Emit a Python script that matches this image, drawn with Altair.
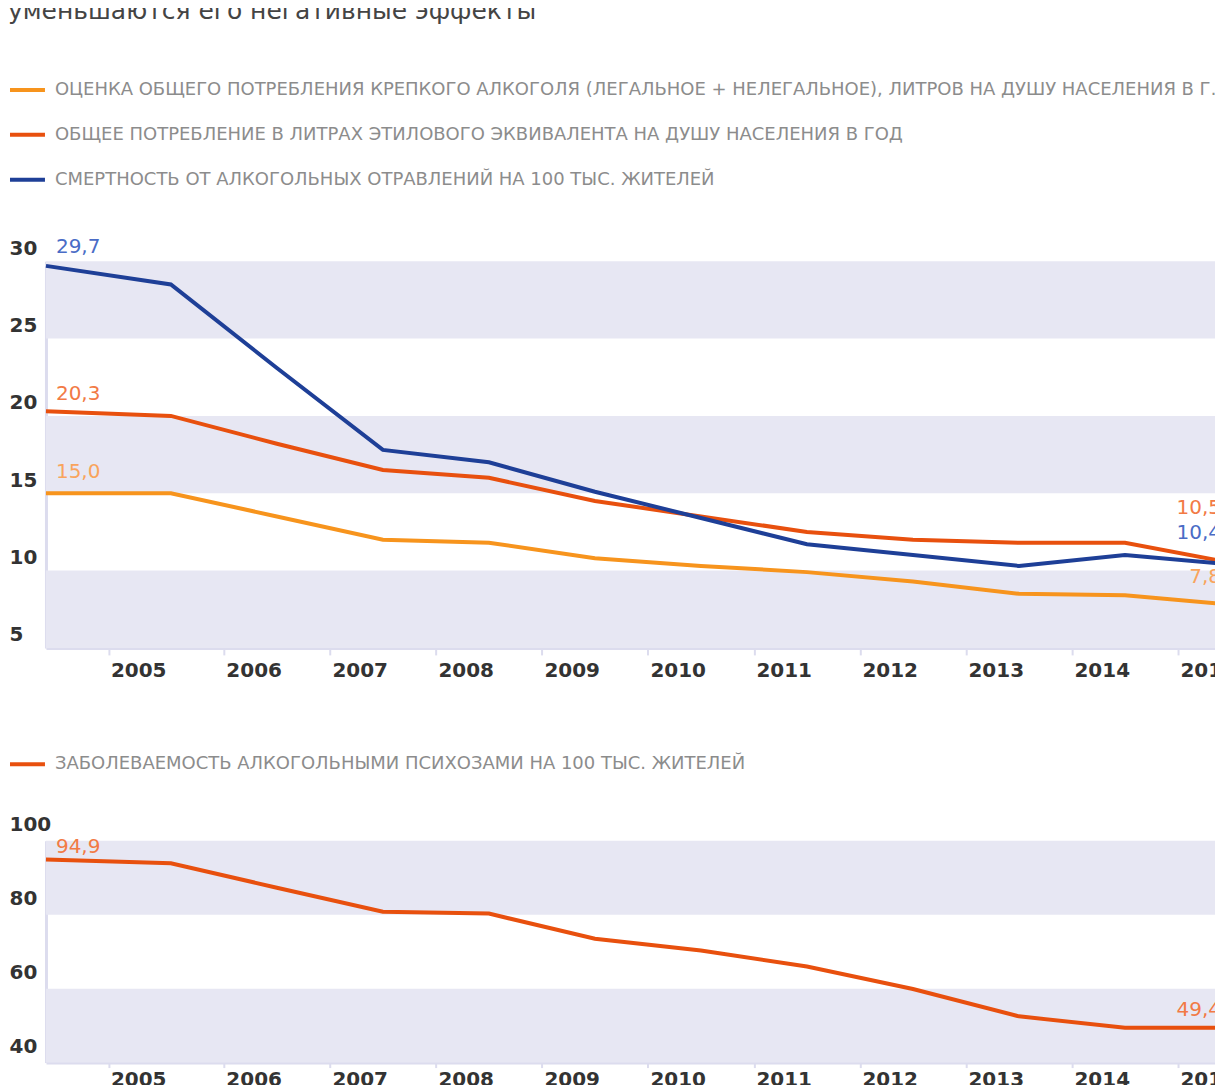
import altair as alt
import pandas as pd

# ---------------- data ----------------
years = list(range(2004, 2016))

spirits = [15.0, 15.0, 13.5, 12.0, 11.8, 10.8, 10.3, 9.9, 9.3, 8.5, 8.4, 7.8]
total = [20.3, 20.0, 18.2, 16.5, 16.0, 14.5, 13.5, 12.5, 12.0, 11.8, 11.8, 10.5]
deaths = [29.7, 28.5, 23.1, 17.8, 17.0, 15.1, 13.4, 11.7, 11.0, 10.3, 11.0, 10.4]
psychoses = [94.9, 93.9, 87.3, 80.8, 80.3, 73.5, 70.3, 66.0, 59.9, 52.5, 49.4, 49.4]

top_names = [
    "ОЦЕНКА ОБЩЕГО ПОТРЕБЛЕНИЯ КРЕПКОГО АЛКОГОЛЯ (ЛЕГАЛЬНОЕ + НЕЛЕГАЛЬНОЕ), ЛИТРОВ НА ДУШУ НАСЕЛЕНИЯ В ГОД",
    "ОБЩЕЕ ПОТРЕБЛЕНИЕ В ЛИТРАХ ЭТИЛОВОГО  ЭКВИВАЛЕНТА НА ДУШУ НАСЕЛЕНИЯ В ГОД",
    "СМЕРТНОСТЬ ОТ АЛКОГОЛЬНЫХ ОТРАВЛЕНИЙ НА 100 ТЫС. ЖИТЕЛЕЙ",
]
bottom_name = "ЗАБОЛЕВАЕМОСТЬ АЛКОГОЛЬНЫМИ ПСИХОЗАМИ НА 100 ТЫС. ЖИТЕЛЕЙ"
title_text = "уменьшаются его негативные эффекты"

top_ticks = [5, 10, 15, 20, 25, 30]
top_bands_lo = [25, 15, 5]
top_bands_hi = [30, 20, 10]
bottom_ticks = [40, 60, 80, 100]
bottom_bands_lo = [80, 40]
bottom_bands_hi = [100, 60]
tick_years = [y + 0.5 for y in years[:-1]]

# ---------------- styles ----------------
FONT = "DejaVu Sans"
ORANGE, RED, BLUE = "#f7941d", "#e8500e", "#1e3f97"
LBL_ORANGE, LBL_RED, LBL_BLUE = "#f9a45c", "#f27a45", "#4a6cc6"
BAND = "#e7e7f3"
AXIS_LINE = "#dcdcee"

W = 1200
xs = alt.Scale(domain=[2004, 2005, 2015], range=[0, 125, 1186])


def x_axis(tick_size, pad):
    return alt.Axis(
        values=tick_years, labelExpr="floor(datum.value) + 1", labelAlign="left",
        labelBaseline="top", labelOffset=2, labelPadding=pad, labelFlush=False,
        labelOverlap=False, tickColor=AXIS_LINE, tickWidth=2, tickSize=tick_size,
        domainColor=AXIS_LINE, domainWidth=3, grid=False, title=None,
    )


def y_axis(vals, off):
    return alt.Axis(
        values=vals, labelAlign="left", labelPadding=37, labelOffset=off,
        labelBaseline="middle", labelFlush=False, ticks=False,
        domainColor=AXIS_LINE, domainWidth=3, grid=False, title=None,
    )


def make_panel(names, value_lists, colors, lbl_colors, start_dys, end_dys, ticks,
               lo, hi, domain, height, legend_y, ylab_off, tick_size, lab_pad):
    rows = []
    for name, vals in zip(names, value_lists):
        for yr, v in zip(years, vals):
            rows.append({"year": yr, "value": v, "series": name})
    df = pd.DataFrame(rows)
    bands = pd.DataFrame({"lo": lo, "hi": hi})

    ys = alt.Scale(domain=domain, nice=False, zero=False)
    X = alt.X("year:Q", scale=xs, axis=x_axis(tick_size, lab_pad))
    Y = alt.Y("value:Q", scale=ys, axis=y_axis(ticks, ylab_off))

    band_layer = alt.Chart(bands).mark_rect(color=BAND).encode(
        y=alt.Y("lo:Q", scale=ys, axis=y_axis(ticks, ylab_off)), y2="hi:Q"
    )

    lines = alt.Chart(df).mark_line(strokeWidth=4).encode(
        x=X, y=Y,
        color=alt.Color(
            "series:N",
            scale=alt.Scale(domain=names, range=colors),
            legend=alt.Legend(
                orient="none", legendX=-38, legendY=legend_y, direction="vertical",
                title=None, symbolType="stroke", symbolSize=1225,
                symbolStrokeWidth=4, labelFont=FONT, labelFontSize=18,
                labelFontWeight="normal", labelColor="#8c8c8c", labelLimit=1180,
                labelOffset=8, rowPadding=16, padding=0,
            ),
        ),
    )

    layers = [band_layer, lines]
    for name, lc, sdy, edy in zip(names, lbl_colors, start_dys, end_dys):
        base = (
            alt.Chart(df)
            .transform_filter(alt.datum.series == name)
            .transform_calculate(lbl="replace(format(datum.value, '.1f'), '.', ',')")
        )
        first = base.transform_filter(alt.datum.year == years[0]).mark_text(
            align="left", dx=10, dy=sdy, color=lc, font=FONT, fontSize=20
        ).encode(x=X, y=Y, text="lbl:N")
        last = base.transform_filter(alt.datum.year == years[-1]).mark_text(
            align="right", dx=-10, dy=edy, color=lc, font=FONT, fontSize=20
        ).encode(x=X, y=Y, text="lbl:N")
        layers += [first, last]

    return alt.layer(*layers).properties(width=W, height=height)


top = make_panel(
    top_names, [spirits, total, deaths], [ORANGE, RED, BLUE],
    [LBL_ORANGE, LBL_RED, LBL_BLUE], [-21, -17, -19], [-28, -55, -31],
    top_ticks, top_bands_lo, top_bands_hi, [5, 30], 387, -191, -13, 7, 6,
)
bottom = make_panel(
    [bottom_name], [psychoses], [RED], [LBL_RED], [-13], [-18],
    bottom_ticks, bottom_bands_lo, bottom_bands_hi, [40, 100], 222, -96, -16, 5, 2,
)

chart = (
    alt.vconcat(top, bottom, spacing=64)
    .resolve_scale(color="independent")
    .resolve_legend(color="independent")
    .properties(
        padding={"left": 0, "top": -9, "right": -30, "bottom": -5},
        title=alt.TitleParams(
            title_text, anchor="start", font=FONT, fontSize=25,
            fontWeight="normal", color="#444444", offset=46,
        ),
    )
    .configure_view(stroke=None)
    .configure_axis(
        labelFont=FONT, labelFontWeight="bold", labelFontSize=20, labelColor="#333333"
    )
)

chart.save("out.html", embed_options={"renderer": "svg", "actions": False})
